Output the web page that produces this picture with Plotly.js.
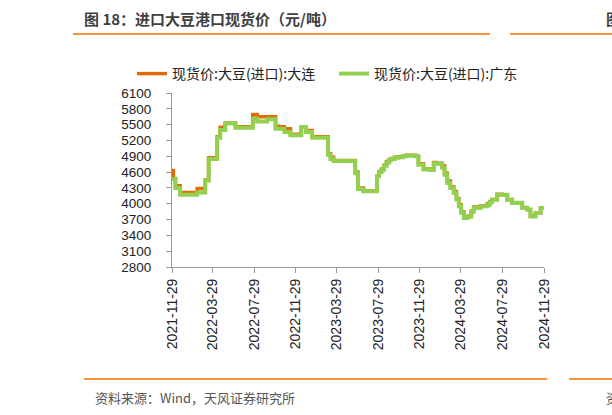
<!DOCTYPE html>
<html>
<head>
<meta charset="utf-8">
<script src="https://cdn.plot.ly/plotly-3.0.1.min.js"></script>
<style>
html,body{margin:0;padding:0;background:#fff;}
#chart{width:612px;height:415px;}
</style>
</head>
<body>
<div id="chart"></div>
<script>
const dates = [
"2021-11-29","2021-12-03","2021-12-09","2021-12-23","2022-02-11","2022-03-07","2022-03-17",
"2022-04-11","2022-04-20","2022-05-05","2022-06-04","2022-07-25","2022-08-07","2022-09-05",
"2022-09-30","2022-10-09","2022-10-26","2022-11-13","2022-12-15","2022-12-29","2023-01-16",
"2023-03-04","2023-03-11","2023-03-20","2023-05-23","2023-05-31","2023-06-16","2023-07-26",
"2023-08-01","2023-08-08","2023-08-16","2023-08-23","2023-08-31","2023-09-06","2023-09-16",
"2023-09-27","2023-10-10","2023-10-21","2023-11-04","2023-11-16","2023-11-25","2023-12-10",
"2023-12-30","2024-01-09","2024-01-17","2024-02-03","2024-02-10","2024-02-18","2024-02-27",
"2024-03-08","2024-03-16","2024-03-23","2024-03-30","2024-04-07","2024-04-14","2024-04-21",
"2024-04-29","2024-05-06","2024-05-26","2024-06-15","2024-06-22","2024-06-29","2024-07-14",
"2024-07-29","2024-08-13","2024-08-27","2024-09-11","2024-09-26","2024-10-10","2024-10-20",
"2024-11-04","2024-11-19","2024-11-29"
];
const dalian = [
4630,4480,4340,4215,4290,4450,4870,
5270,5450,5530,5460,5690,5650,5650,
5470,5460,5420,5320,5455,5390,5270,
4950,4880,4820,4600,4300,4240,4530,
4610,4660,4730,4800,4840,4860,4880,
4890,4910,4920,4920,4900,4760,4660,
4650,4780,4770,4720,4580,4430,4320,
4230,4100,3980,3850,3740,3750,3770,
3860,3940,3960,4000,4040,4080,4180,
4170,4080,4020,4020,3930,3890,3770,
3830,3920,3890
];
const guangdong = [
4470,4470,4300,4170,4215,4440,4850,
5250,5400,5520,5440,5610,5560,5600,
5420,5420,5360,5300,5455,5360,5250,
4930,4850,4810,4580,4280,4235,4520,
4600,4645,4720,4780,4830,4850,4870,
4880,4900,4910,4910,4900,4740,4650,
4640,4770,4760,4680,4550,4395,4300,
4205,4080,3950,3830,3730,3740,3760,
3850,3920,3950,3980,4030,4075,4170,
4170,4075,4015,4020,3920,3890,3760,
3825,3920,3890
];
const seriesNames = ["现货价:大豆(进口):大连","现货价:大豆(进口):广东"];
const tickDates = ["2021-11-29","2022-03-29","2022-07-29","2022-11-29","2023-03-29",
  "2023-07-29","2023-11-29","2024-03-29","2024-07-29","2024-11-29"];

const W=612,H=415,L=172,R=68,T=93,B=148;
const pw=W-L-R, ph=H-T-B;
const px=v=>(v-L)/pw, py=v=>1-(v-T)/ph;
const font="'Noto Sans CJK SC','Noto Sans',sans-serif";
const numFont="'Liberation Sans',Arial,sans-serif";

const traces=[
 {x:dates,y:dalian,name:seriesNames[0],type:'scatter',mode:'lines',
  line:{color:'#E36C09',width:3.5,shape:'hv'}},
 {x:dates,y:guangdong,name:seriesNames[1],type:'scatter',mode:'lines',
  line:{color:'#92D050',width:4,shape:'hv'}}
];
const layout={
 width:W,height:H,margin:{l:L,r:R,t:T,b:B},
 paper_bgcolor:'#fff',plot_bgcolor:'#fff',
 font:{family:font,size:14,color:'#222'},
 showlegend:true,
 legend:{orientation:'h',x:px(132),y:py(58),xanchor:'left',yanchor:'top',bgcolor:'rgba(0,0,0,0)',
   font:{family:font,size:14,color:'#222'},itemwidth:30,entrywidth:157,traceorder:'normal'},
 xaxis:{type:'date',range:['2021-11-29','2024-11-29'],tickvals:tickDates,ticktext:tickDates,
   tickangle:-90,showgrid:false,zeroline:false,showline:true,linecolor:'#999',linewidth:1,
   ticks:'outside',ticklen:5,tickcolor:'#999',tickfont:{family:numFont,size:14,color:'#222'},fixedrange:true},
 yaxis:{range:[2800,6100],dtick:300,tick0:2800,showgrid:false,zeroline:false,showline:true,
   linecolor:'#999',linewidth:1,ticks:'outside',ticklen:5,tickcolor:'#999',ticklabelstandoff:12,
   tickfont:{family:numFont,size:13.5,color:'#222'},fixedrange:true},
 annotations:[
  {text:'<b>图 18：进口大豆港口现货价（元/吨）</b>',xref:'paper',yref:'paper',x:px(82),y:py(18),
   xanchor:'left',yanchor:'middle',showarrow:false,font:{family:font,size:15,color:'#404040'}},
  {text:'<b>图</b>',xref:'paper',yref:'paper',x:px(604),y:py(18),
   xanchor:'left',yanchor:'middle',showarrow:false,font:{family:font,size:15,color:'#404040'}},
  {text:'资料来源：Wind，天风证券研究所',xref:'paper',yref:'paper',x:px(93),y:py(397),
   xanchor:'left',yanchor:'middle',showarrow:false,font:{family:font,size:13,color:'#555'}},
  {text:'资',xref:'paper',yref:'paper',x:px(604),y:py(397),
   xanchor:'left',yanchor:'middle',showarrow:false,font:{family:font,size:13,color:'#555'}}
 ],
 shapes:[
  {type:'line',xref:'paper',yref:'paper',x0:px(73),x1:px(490),y0:py(34),y1:py(34),line:{color:'#F7923A',width:2}},
  {type:'line',xref:'paper',yref:'paper',x0:px(510),x1:px(612),y0:py(34),y1:py(34),line:{color:'#F7923A',width:2}},
  {type:'line',xref:'paper',yref:'paper',x0:px(84),x1:px(547),y0:py(379),y1:py(379),line:{color:'#F7923A',width:2}},
  {type:'line',xref:'paper',yref:'paper',x0:px(569),x1:px(612),y0:py(379),y1:py(379),line:{color:'#F7923A',width:2}}
 ]
};
Plotly.newPlot('chart',traces,layout,{displayModeBar:false,staticPlot:true});
</script>
</body>
</html>
